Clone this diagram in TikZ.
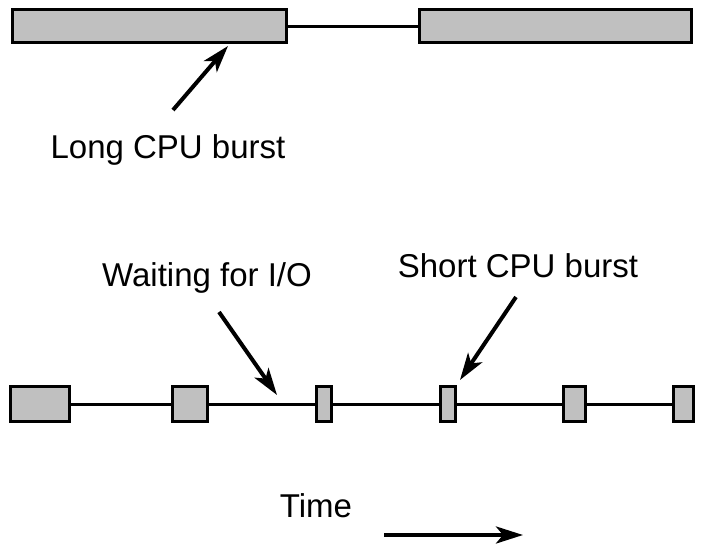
\documentclass[tikz,border=0pt]{standalone}
\usepackage{fontspec}
\setmainfont{Liberation Sans}
\usetikzlibrary{positioning}
\usetikzlibrary{arrows.meta}
\definecolor{burstgray}{HTML}{C0C0C0}

\begin{document}
\begin{tikzpicture}[x=1pt, y=-1pt, burst/.style={draw, fill=burstgray, line width=3pt, inner sep=0pt, minimum height=33pt}, font=\fontsize{33}{38}\selectfont]
\tikzstyle{texto}=[anchor=base, inner sep=0pt]
\tikzstyle{wait}=[line width=3pt]
\tikzstyle{pointer}=[line width=4pt, -{Stealth[length=27pt, width=17pt, inset=7pt]}]

\useasboundingbox (0, 0) rectangle (704, 552);

% arriba
\node (L1) [burst, minimum width=274pt] at (149.5, 26) {};
\node (L2) [burst, minimum width=272pt] at (555.5, 26) {};
\draw [wait](L1.east) -- (L2.west);

% abajo
\node (S1) [burst, minimum width=59pt, minimum height=35pt] at (40, 404) {};
\node (S2) [burst, minimum width=35pt, minimum height=35pt] at (190, 404) {};
\node (S3) [burst, minimum width=15pt, minimum height=35pt] at (324, 404) {};
\node (S4) [burst, minimum width=15pt, minimum height=35pt] at (448, 404) {};
\node (S5) [burst, minimum width=22pt, minimum height=35pt] at (574.5, 404) {};
\node (S6) [burst, minimum width=20pt, minimum height=35pt] at (683.5, 404) {};
\draw [wait](S1.east) -- (S2.west);
\draw [wait](S2.east) -- (S3.west);
\draw [wait](S3.east) -- (S4.west);
\draw [wait](S4.east) -- (S5.west);
\draw [wait](S5.east) -- (S6.west);

% tags
\node (longtag) [texto] at (168, 158) {Long CPU burst};
\node (waittag) [texto] at (207, 286) {Waiting for I/O};
\node (shorttag) [texto] at (518, 277) {Short CPU burst};
\node (timetag) [texto] at (316, 517) {Time};

% arrows
\coordinate (longtail) at (173, 110);
\coordinate (longhead) at (228, 46);
\coordinate (waittail) at (219, 312);
\coordinate (waithead) at (277, 395);
\coordinate (shorttail) at (516, 297);
\coordinate (shorthead) at (460, 380);
\coordinate (timetail) at (384, 535);
\coordinate (timehead) at (523, 535);
\draw [pointer](longtail) -- (longhead);
\draw [pointer](waittail) -- (waithead);
\draw [pointer](shorttail) -- (shorthead);
\draw [pointer](timetail) -- (timehead);
\end{tikzpicture}
\end{document}
